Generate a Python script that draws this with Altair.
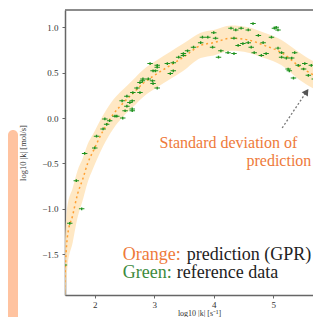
import altair as alt
import pandas as pd

# GPR prediction (mean) and its standard deviation
pred_x = [1.49, 1.51, 1.54, 1.63, 1.71, 1.80, 1.88, 1.97, 2.14, 2.31, 2.47, 2.64, 2.81,
          3.05, 3.27, 3.49, 3.78, 4.00, 4.29, 4.58, 4.85, 5.14, 5.42, 5.69, 5.83]
pred_y = [-1.92, -1.59, -1.31, -1.07, -0.84, -0.67, -0.50, -0.37, -0.14, 0.04, 0.16, 0.27, 0.38,
          0.49, 0.58, 0.67, 0.80, 0.83, 0.88, 0.86, 0.80, 0.72, 0.58, 0.47, 0.43]
pred_std = [0.42, 0.38, 0.34, 0.30, 0.26, 0.23, 0.21, 0.19, 0.17, 0.16, 0.15, 0.15, 0.15,
            0.15, 0.15, 0.15, 0.14, 0.14, 0.14, 0.14, 0.14, 0.14, 0.15, 0.15, 0.15]

# reference data
ref_x = [1.49, 1.58, 1.78, 1.69, 1.83, 2.00, 2.03, 2.14, 2.17, 2.20, 2.25, 2.34, 2.37, 2.47,
         2.51, 2.63, 2.54, 2.46, 2.63, 2.59, 2.63, 2.54, 2.64, 2.71, 2.76, 2.81, 2.90, 2.98,
         3.05, 2.98, 2.76, 2.80, 2.93, 3.05, 3.22, 3.32, 3.41, 3.49, 3.27, 3.32, 2.97, 3.05,
         3.02, 3.49, 3.56, 3.66, 3.78, 3.81, 3.90, 4.00, 4.03, 3.98, 4.12, 4.08, 4.24, 4.29,
         4.37, 4.46, 4.58, 4.66, 4.34, 4.41, 4.34, 4.49, 4.58, 4.63, 4.75, 4.83, 4.68, 4.80,
         4.88, 4.97, 5.02, 5.08, 5.08, 5.14, 5.22, 5.14, 5.31, 5.36, 5.42, 5.25, 5.51, 5.59,
         5.27, 5.53, 5.69, 5.76, 5.64, 5.81, 5.34, 5.05]
ref_y = [-1.62, -1.16, -1.00, -0.69, -0.39, -0.33, -0.20, -0.12, -0.01, -0.07, -0.03, 0.02,
         0.02, 0.00, 0.08, 0.10, 0.13, 0.19, 0.19, 0.17, 0.08, 0.24, 0.28, 0.33, 0.39, 0.43,
         0.43, 0.52, 0.58, 0.38, 0.28, 0.41, 0.60, 0.56, 0.60, 0.61, 0.67, 0.69, 0.49, 0.52,
         0.41, 0.33, 0.52, 0.71, 0.74, 0.78, 0.83, 0.89, 0.89, 0.94, 0.88, 0.78, 0.74, 0.67,
         0.72, 0.99, 0.97, 0.99, 0.97, 1.04, 0.88, 0.80, 0.71, 0.82, 0.83, 0.78, 0.91, 0.83,
         0.72, 0.69, 0.71, 0.89, 0.99, 0.97, 0.77, 0.67, 0.66, 0.72, 0.66, 0.72, 0.58, 0.54,
         0.54, 0.47, 0.52, 0.60, 0.43, 0.47, 0.58, 0.50, 0.44, 1.00]

x_ticks = [2, 3, 4, 5, 6]
y_ticks = [-1.5, -1.0, -0.5, 0.0, 0.5, 1.0]
x_title = "log10 |k| [s⁻¹]"
y_title = "log10 |k| [mol/s]"
annot_lines = ["Standard deviation of", "prediction"]
legend_lines = [("Orange:", "prediction (GPR)"), ("Green:", "reference data")]

W, H = 248, 285
XD = [1.5, 1.5 + W / 59.5]
YD = [-1.95, 1.19]

ORANGE = "#FFA033"
BAND = "#FFE2B5"
GREEN = "#1E921E"
TXT_OR = "#EE7A3A"
TXT_GR = "#3D8B3D"
FONT = "Times New Roman, Liberation Serif, serif"

pred = pd.DataFrame({"x": pred_x, "y": pred_y, "s": pred_std})
pred["lo"] = pred["y"] - pred["s"]
pred["hi"] = pred["y"] + pred["s"]
ref = pd.DataFrame({"x": ref_x, "y": ref_y})

xs = alt.Scale(domain=XD, nice=False, zero=False)
ys = alt.Scale(domain=YD, nice=False, zero=False)

xax = alt.Axis(values=x_ticks, format="d", title=x_title, grid=False, titleX=134, titleY=14,
               titleBaseline="top", labelPadding=2, tickSize=3, titleFontSize=8)
yax = alt.Axis(values=y_ticks, format=".1f", title=y_title, grid=False,
               labelPadding=4, titlePadding=14, tickSize=3)

band = alt.Chart(pred).mark_area(color=BAND, opacity=0.8, interpolate="monotone", clip=True).encode(
    x=alt.X("x:Q", scale=xs, axis=xax),
    y=alt.Y("lo:Q", scale=ys, axis=yax),
    y2="hi:Q",
)
line = alt.Chart(pred).mark_line(color=ORANGE, strokeDash=[2, 3], strokeWidth=1.5,
                                  interpolate="monotone", clip=True).encode(
    x=alt.X("x:Q", scale=xs), y=alt.Y("y:Q", scale=ys))

pts = alt.Chart(ref).mark_point(
    shape="M-1,-0.18H1V0.18H-1Z M-0.25,-0.5H0.25V0.5H-0.25Z",
    filled=True, color=GREEN, size=30, opacity=1, clip=True).encode(
    x=alt.X("x:Q", scale=xs), y=alt.Y("y:Q", scale=ys))

# arrow from annotation to band
arrow_df = pd.DataFrame({"x": [5.15], "y": [-0.11], "x2": [5.57], "y2": [0.30]})
arrow = alt.Chart(arrow_df).mark_rule(color="#777777", strokeDash=[2, 2], strokeWidth=1.3).encode(
    x=alt.X("x:Q", scale=xs), y=alt.Y("y:Q", scale=ys), x2="x2:Q", y2="y2:Q")
head_df = pd.DataFrame({"x": [5.56], "y": [0.29]})
head = alt.Chart(head_df).mark_point(shape="triangle-up", filled=True, color="#555555",
                                     size=55, angle=34, opacity=1).encode(
    x=alt.X("x:Q", scale=xs), y=alt.Y("y:Q", scale=ys))

# annotation text
ann_df = pd.DataFrame({"t": annot_lines, "x": [3.09, 4.55], "y": [-0.27, -0.47]})
ann = alt.Chart(ann_df).mark_text(font=FONT, fontSize=16, color=TXT_OR, align="left",
                                  baseline="middle").encode(
    x=alt.X("x:Q", scale=xs), y=alt.Y("y:Q", scale=ys), text="t:N")

# legend-like text
leg_df = pd.DataFrame({"a": [l[0] for l in legend_lines], "b": [l[1] for l in legend_lines],
                       "c": [TXT_OR, TXT_GR], "x": [2.47, 2.47], "y": [-1.51, -1.71]})
leg_a = alt.Chart(leg_df).mark_text(font=FONT, fontSize=18, align="left", baseline="middle").encode(
    x=alt.X("x:Q", scale=xs), y=alt.Y("y:Q", scale=ys), text="a:N",
    color=alt.Color("c:N", scale=None))
leg_b1 = alt.Chart(leg_df.iloc[[0]]).mark_text(font=FONT, fontSize=18, align="left",
                                                baseline="middle", color="#222222", dx=64).encode(
    x=alt.X("x:Q", scale=xs), y=alt.Y("y:Q", scale=ys), text="b:N")
leg_b2 = alt.Chart(leg_df.iloc[[1]]).mark_text(font=FONT, fontSize=18, align="left",
                                                baseline="middle", color="#222222", dx=54).encode(
    x=alt.X("x:Q", scale=xs), y=alt.Y("y:Q", scale=ys), text="b:N")

# top frame line and the neighbouring panel's edge at left
frame_df = pd.DataFrame({"k": [0]})
top = alt.Chart(frame_df).mark_rule(color="#666666", strokeWidth=1.5).encode(
    x=alt.value(0), x2=alt.value(W), y=alt.value(0))
side = alt.Chart(frame_df).mark_rect(color="#FFC3A0", cornerRadiusTopLeft=6,
                                     cornerRadiusTopRight=6).encode(
    x=alt.value(-57), x2=alt.value(-47), y=alt.value(120), y2=alt.value(320))

chart = alt.layer(side, band, line, pts, arrow, head, ann, leg_a, leg_b1, leg_b2, top).properties(
    width=W, height=H,
    autosize=alt.AutoSizeParams(type="none"),
    padding={"left": 57, "top": 2, "right": 0, "bottom": 22},
).configure_view(stroke=None).configure_axis(
    domainColor="#666666", domainWidth=1.5, tickColor="#666666",
    labelColor="#333333", labelFont=FONT, labelFontSize=9,
    titleFont=FONT, titleFontSize=8.5, titleColor="#333333", titleFontWeight="normal",
)

chart.save("out.html", embed_options={"renderer": "svg", "actions": False})
